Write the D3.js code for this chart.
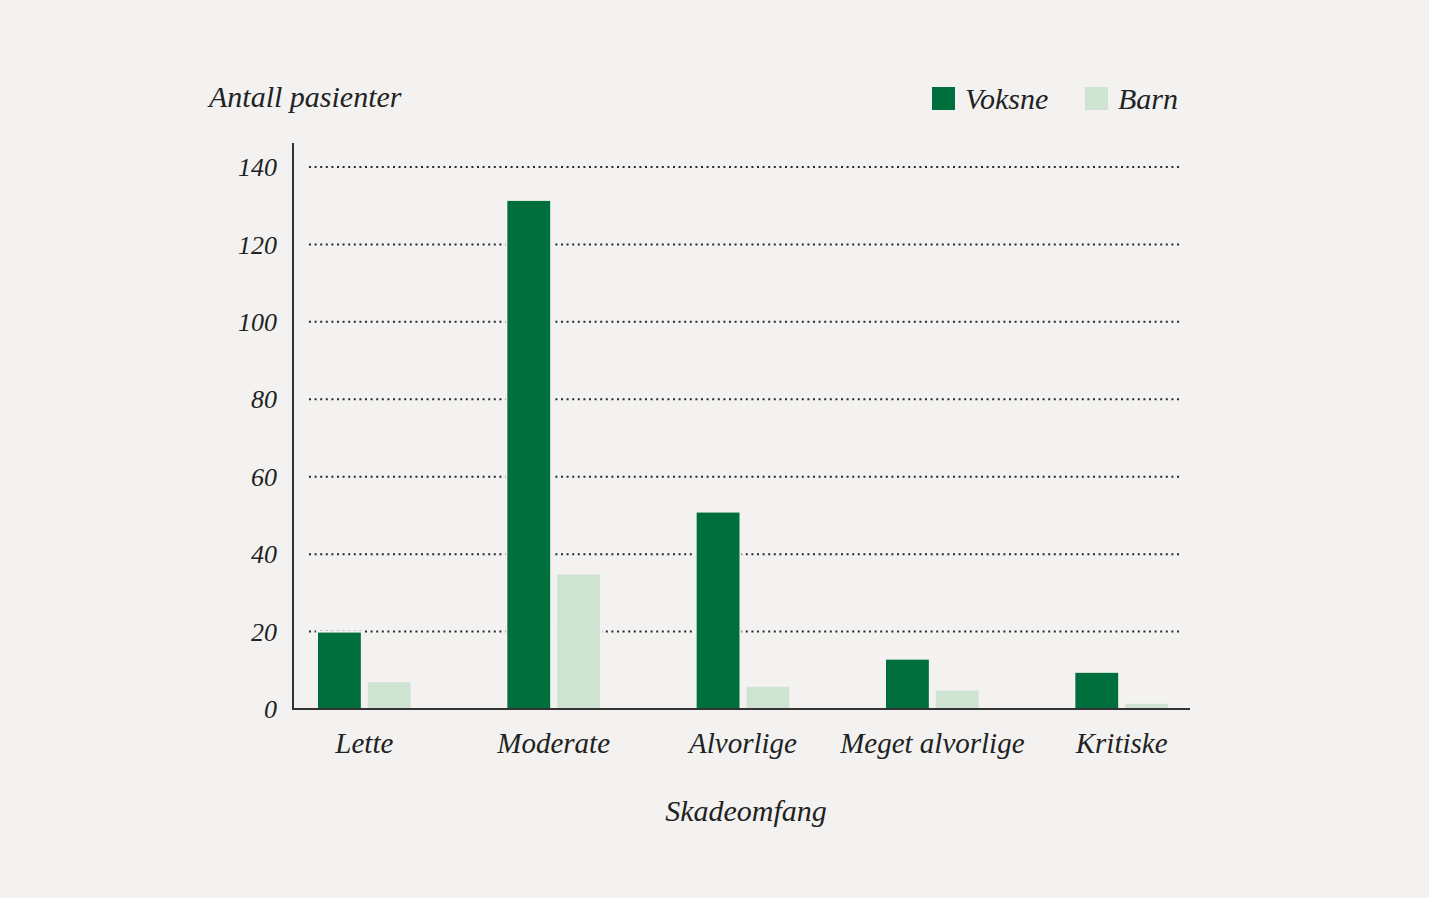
<!DOCTYPE html>
<html>
<head>
<meta charset="utf-8">
<script src="https://cdn.jsdelivr.net/npm/d3@7"></script>
<style>
  html, body { margin: 0; padding: 0; background: #f3f2f0; }
  svg { display: block; }
  text { font-family: "Liberation Serif", serif; font-style: italic; fill: #222; }
</style>
</head>
<body>
<svg id="chart" width="1429" height="898"></svg>
<script>
const categories = ["Lette", "Moderate", "Alvorlige", "Meget alvorlige", "Kritiske"];
const seriesNames = ["Voksne", "Barn"];
const voksne = [20, 131.5, 51, 13, 9.6];
const barn = [7.2, 35, 6, 5, 1.6];
const yTicks = [0, 20, 40, 60, 80, 100, 120, 140];
const colors = ["#006f3e", "#cfe3d3"];
const bg = "#f3f2f0";

const svg = d3.select("#chart");
svg.append("rect").attr("width", 1429).attr("height", 898).attr("fill", bg);

const y = d3.scaleLinear().domain([0, 140]).range([709, 167]);
const x0 = d3.scaleBand().domain(categories).range([317, 1169]).paddingInner(0.5).paddingOuter(0);
const x1 = d3.scaleBand().domain(seriesNames).range([0, x0.bandwidth()]).paddingInner(0.1);

const data = categories.map((c, i) => ({ cat: c, values: [voksne[i], barn[i]] }));

// gridlines
svg.append("g").selectAll("line").data(yTicks.filter(d => d > 0)).join("line")
  .attr("x1", 309).attr("x2", 1180)
  .attr("y1", d => y(d)).attr("y2", d => y(d))
  .attr("stroke", "#2a2a2a").attr("stroke-width", 2)
  .attr("stroke-dasharray", "2,3.6");

// bars
const groups = svg.append("g").selectAll("g").data(data).join("g")
  .attr("transform", d => `translate(${x0(d.cat)},0)`);
groups.selectAll("rect").data(d => d.values.map((v, j) => ({ s: seriesNames[j], v, j }))).join("rect")
  .attr("x", d => x1(d.s))
  .attr("width", x1.bandwidth())
  .attr("y", d => y(d.v))
  .attr("height", d => y(0) - y(d.v))
  .attr("fill", d => colors[d.j])
  .attr("stroke", bg).attr("stroke-width", 2);

// axes
const yAxis = d3.axisLeft(y).tickValues(yTicks).tickSize(0).tickPadding(16);
const gy = svg.append("g").attr("transform", "translate(293,0)").call(yAxis);
gy.select(".domain").remove();
gy.selectAll("text").attr("font-size", 26).attr("font-family", "Liberation Serif").attr("font-style", "italic").attr("fill", "#222").attr("dy", "0.33em");

svg.append("line").attr("x1", 293).attr("x2", 293).attr("y1", 143).attr("y2", 710)
  .attr("stroke", "#333").attr("stroke-width", 2);
svg.append("line").attr("x1", 292).attr("x2", 1190).attr("y1", y(0)).attr("y2", y(0))
  .attr("stroke", "#333").attr("stroke-width", 2);

const xAxis = d3.axisBottom(x0).tickSize(0).tickPadding(0);
const gx = svg.append("g").attr("transform", "translate(0,709)").call(xAxis);
gx.select(".domain").remove();
gx.selectAll("text").attr("font-size", 29).attr("font-family", "Liberation Serif").attr("font-style", "italic").attr("fill", "#222").attr("dy", "1.52em");

// titles
svg.append("text").attr("x", 209).attr("y", 107).attr("font-size", 30).text("Antall pasienter");
svg.append("text").attr("x", 746).attr("y", 821).attr("text-anchor", "middle").attr("font-size", 30).text("Skadeomfang");

// legend
const legendX = [932, 1085];
seriesNames.forEach((s, i) => {
  svg.append("rect").attr("x", legendX[i]).attr("y", 87).attr("width", 23).attr("height", 23).attr("fill", colors[i]);
  svg.append("text").attr("x", legendX[i] + 33).attr("y", 109).attr("font-size", 30).text(s);
});
</script>
</body>
</html>
